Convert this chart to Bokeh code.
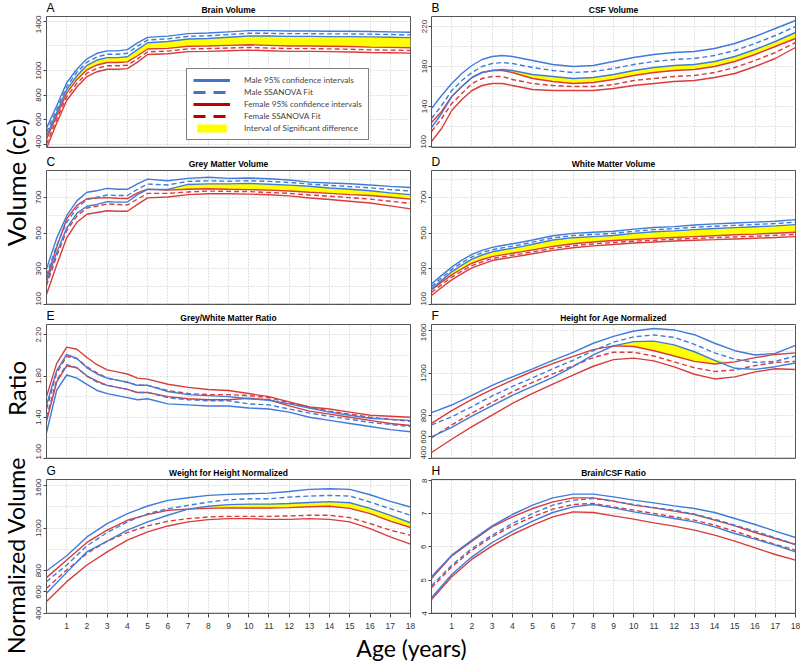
import numpy as np
from bokeh.plotting import figure
from bokeh.models import (Range1d, FixedTicker, Span, Legend, LegendItem,
                          NumeralTickFormatter)
from bokeh.layouts import row, column
from bokeh.embed import file_html
from bokeh.resources import INLINE
from bokeh.core.properties import value

# ---------------- data ----------------
AGES_FINE = [0, 0.5, 1, 1.5, 2, 2.5, 3, 3.5, 4, 4.5, 5, 6, 7, 8, 9, 10, 11, 12, 13, 14, 15, 16, 17, 18]
AGES_INT = list(range(19))
X_TICKS = list(range(1, 19))

# A  Brain Volume
A_m_up = [530, 710, 900, 1010, 1095, 1140, 1160, 1160, 1170, 1225, 1270, 1280, 1300, 1305, 1315, 1325, 1325, 1322, 1322, 1320, 1320, 1318, 1315, 1312]
A_m_fit = [495, 680, 870, 985, 1068, 1110, 1132, 1132, 1140, 1198, 1248, 1258, 1278, 1283, 1293, 1303, 1303, 1300, 1300, 1298, 1298, 1296, 1293, 1290]
A_m_lo = [465, 655, 845, 955, 1042, 1085, 1105, 1105, 1112, 1170, 1226, 1236, 1256, 1261, 1271, 1281, 1281, 1278, 1278, 1276, 1276, 1274, 1271, 1268]
A_f_up = [440, 630, 815, 925, 1005, 1045, 1065, 1065, 1070, 1120, 1175, 1180, 1198, 1200, 1205, 1210, 1205, 1200, 1200, 1198, 1195, 1190, 1188, 1185]
A_f_fit = [400, 600, 785, 895, 978, 1018, 1038, 1038, 1042, 1095, 1152, 1158, 1176, 1178, 1183, 1188, 1183, 1178, 1178, 1176, 1173, 1168, 1166, 1163]
A_f_lo = [365, 570, 755, 865, 950, 990, 1010, 1010, 1015, 1068, 1130, 1136, 1154, 1156, 1161, 1166, 1161, 1156, 1156, 1154, 1151, 1146, 1144, 1141]

# B  CSF Volume
B_m_up = [138, 151, 163, 173, 181, 187, 190, 191, 190, 188, 186, 182, 180, 181, 185, 189, 192, 194, 195, 198, 203, 210, 218, 226]
B_m_fit = [128, 141, 156, 166, 174, 180, 183, 184, 183, 181, 179, 176, 174, 175, 178, 182, 185, 187, 188, 191, 196, 203, 211, 220]
B_m_lo = [119, 133, 150, 160, 169, 174, 176, 177, 176, 174, 172, 170, 168, 169, 172, 176, 179, 181, 182, 185, 190, 197, 205, 214]
B_f_up = [124, 135, 150, 160, 169, 174, 176, 176, 174, 171, 168, 165, 163, 164, 167, 171, 174, 176, 177, 180, 185, 192, 200, 208]
B_f_fit = [115, 128, 143, 153, 163, 168, 170, 170, 167, 165, 163, 161, 160, 160, 162, 166, 168, 170, 171, 174, 179, 186, 194, 204]
B_f_lo = [105, 118, 136, 147, 156, 161, 163, 163, 161, 159, 157, 156, 156, 156, 158, 161, 163, 165, 166, 169, 173, 180, 188, 199]

# C  Grey Matter Volume
C_m_up = [299, 470, 597, 680, 728, 737, 750, 745, 745, 775, 802, 793, 806, 812, 806, 808, 804, 797, 785, 780, 776, 769, 761, 755]
C_m_fit = [262, 430, 560, 640, 687, 700, 713, 710, 710, 745, 774, 769, 789, 792, 790, 793, 789, 783, 774, 767, 760, 753, 743, 735]
C_m_lo = [225, 390, 528, 610, 650, 660, 676, 673, 674, 715, 744, 744, 772, 775, 775, 778, 773, 768, 762, 752, 745, 737, 725, 715]
C_f_up = [243, 420, 579, 655, 692, 696, 698, 695, 693, 725, 746, 740, 745, 748, 745, 743, 740, 735, 728, 722, 715, 710, 700, 690]
C_f_fit = [206, 370, 514, 595, 640, 650, 663, 660, 657, 690, 722, 722, 730, 735, 733, 732, 727, 722, 713, 706, 698, 690, 678, 666]
C_f_lo = [156, 320, 473, 560, 605, 615, 625, 622, 622, 660, 697, 702, 715, 720, 720, 718, 714, 708, 696, 688, 678, 668, 652, 635]

# D  White Matter Volume
D_m_up = [215, 263, 309, 348, 380, 403, 420, 430, 440, 450, 461, 485, 498, 504, 510, 522, 531, 536, 545, 551, 556, 561, 566, 575]
D_m_fit = [200, 249, 296, 334, 367, 390, 407, 417, 427, 437, 449, 473, 486, 492, 498, 510, 519, 524, 532, 538, 543, 548, 553, 561]
D_m_lo = [186, 235, 283, 320, 354, 377, 395, 405, 415, 425, 437, 461, 474, 480, 486, 498, 507, 512, 519, 525, 530, 535, 540, 547]
D_f_up = [182, 225, 266, 300, 331, 352, 368, 378, 387, 396, 406, 425, 440, 450, 458, 464, 470, 475, 480, 485, 490, 494, 499, 504]
D_f_fit = [167, 211, 253, 287, 318, 339, 357, 367, 376, 385, 395, 414, 429, 439, 447, 454, 460, 465, 470, 474, 478, 482, 487, 492]
D_f_lo = [150, 195, 238, 273, 305, 326, 346, 356, 365, 374, 384, 403, 418, 428, 436, 444, 450, 455, 460, 463, 467, 471, 475, 480]

# E  Grey/White Matter Ratio
E_m_up = [1.52, 1.85, 2.01, 1.97, 1.88, 1.82, 1.78, 1.76, 1.74, 1.71, 1.71, 1.65, 1.62, 1.61, 1.60, 1.58, 1.565, 1.53, 1.49, 1.45, 1.42, 1.39, 1.38, 1.37]
E_m_fit = [1.40, 1.76, 1.91, 1.88, 1.80, 1.74, 1.71, 1.69, 1.67, 1.64, 1.64, 1.59, 1.57, 1.56, 1.56, 1.53, 1.52, 1.48, 1.44, 1.41, 1.38, 1.35, 1.33, 1.31]
E_m_lo = [1.25, 1.66, 1.81, 1.78, 1.72, 1.66, 1.63, 1.61, 1.59, 1.57, 1.58, 1.53, 1.52, 1.51, 1.51, 1.49, 1.48, 1.45, 1.40, 1.37, 1.34, 1.31, 1.28, 1.26]
E_f_up = [1.60, 1.92, 2.08, 2.06, 1.98, 1.91, 1.86, 1.84, 1.82, 1.78, 1.77, 1.72, 1.69, 1.67, 1.66, 1.63, 1.60, 1.55, 1.50, 1.48, 1.45, 1.42, 1.41, 1.40]
E_f_fit = [1.48, 1.83, 1.99, 1.97, 1.89, 1.83, 1.78, 1.76, 1.74, 1.71, 1.71, 1.66, 1.63, 1.62, 1.62, 1.61, 1.59, 1.54, 1.50, 1.46, 1.43, 1.40, 1.38, 1.36]
E_f_lo = [1.36, 1.74, 1.90, 1.88, 1.80, 1.75, 1.71, 1.69, 1.67, 1.64, 1.64, 1.60, 1.58, 1.57, 1.57, 1.585, 1.57, 1.51, 1.46, 1.43, 1.40, 1.37, 1.34, 1.32]

# F  Height for Age Normalized
F_m_up = [828, 900, 990, 1085, 1165, 1240, 1320, 1395, 1480, 1545, 1595, 1618, 1605, 1560, 1480, 1410, 1370, 1385, 1460]
F_m_fit = [713, 790, 885, 985, 1075, 1155, 1240, 1320, 1410, 1490, 1540, 1558, 1535, 1470, 1390, 1330, 1300, 1310, 1360]
F_m_lo = [600, 690, 795, 895, 990, 1075, 1160, 1260, 1370, 1455, 1495, 1500, 1465, 1400, 1320, 1245, 1235, 1260, 1295]
F_f_up = [728, 847, 953, 1046, 1133, 1217, 1289, 1357, 1420, 1455, 1450, 1410, 1360, 1310, 1285, 1305, 1345, 1375, 1390]
F_f_fit = [591, 713, 825, 926, 1024, 1113, 1192, 1268, 1346, 1395, 1395, 1360, 1305, 1250, 1215, 1230, 1270, 1300, 1310]
F_f_lo = [454, 579, 697, 806, 915, 1009, 1096, 1180, 1264, 1326, 1340, 1314, 1258, 1189, 1145, 1164, 1211, 1240, 1233]

# G  Weight for Height Normalized
G_m_up = [797, 940, 1117, 1242, 1335, 1407, 1460, 1485, 1507, 1516, 1522, 1528, 1544, 1563, 1569, 1563, 1513, 1451, 1398]
G_m_fit = [697, 853, 1033, 1158, 1258, 1335, 1382, 1413, 1444, 1466, 1475, 1475, 1491, 1500, 1507, 1500, 1444, 1382, 1320]
G_m_lo = [588, 784, 977, 1077, 1180, 1258, 1320, 1378, 1405, 1420, 1425, 1425, 1430, 1440, 1448, 1438, 1385, 1320, 1250]
G_f_up = [735, 900, 1065, 1180, 1273, 1326, 1367, 1378, 1385, 1390, 1388, 1388, 1392, 1400, 1405, 1385, 1335, 1265, 1205]
G_f_fit = [635, 806, 962, 1077, 1158, 1220, 1264, 1289, 1304, 1310, 1310, 1310, 1314, 1320, 1320, 1298, 1242, 1180, 1133]
G_f_lo = [510, 697, 853, 977, 1086, 1164, 1220, 1258, 1279, 1289, 1289, 1282, 1282, 1289, 1282, 1258, 1195, 1118, 1049]

# H  Brain/CSF Ratio
H_m_up = [5.10, 5.75, 6.20, 6.63, 6.97, 7.25, 7.47, 7.58, 7.58, 7.50, 7.40, 7.32, 7.23, 7.15, 7.03, 6.85, 6.67, 6.47, 6.28]
H_m_fit = [4.83, 5.45, 5.95, 6.35, 6.70, 7.00, 7.25, 7.40, 7.45, 7.37, 7.27, 7.18, 7.10, 6.98, 6.83, 6.65, 6.47, 6.27, 6.07]
H_m_lo = [4.47, 5.17, 5.70, 6.13, 6.47, 6.77, 7.03, 7.20, 7.27, 7.17, 7.05, 6.95, 6.85, 6.75, 6.60, 6.40, 6.23, 6.05, 5.85]
H_f_up = [5.05, 5.73, 6.17, 6.60, 6.90, 7.15, 7.35, 7.47, 7.47, 7.37, 7.25, 7.17, 7.07, 6.97, 6.80, 6.63, 6.43, 6.25, 6.07]
H_f_fit = [4.77, 5.40, 5.90, 6.30, 6.63, 6.90, 7.13, 7.27, 7.30, 7.20, 7.10, 7.00, 6.90, 6.80, 6.65, 6.47, 6.27, 6.07, 5.90]
H_f_lo = [4.42, 5.10, 5.63, 6.03, 6.37, 6.65, 6.90, 7.05, 7.03, 6.93, 6.83, 6.72, 6.62, 6.50, 6.35, 6.17, 5.97, 5.77, 5.60]

LEGEND_LABELS = ["Male 95% confidence intervals", "Male SSANOVA Fit",
                 "Female 95% confidence intervals", "Female SSANOVA Fit",
                 "Interval of Significant difference"]

# ---------------- style / layout ----------------
BLUE = "#3f7bd8"
RED = "#d83c3c"
LEG_BLUE = "#4472c4"
LEG_RED = "#c00000"
YELLOW = "#ffff00"
TICK_FONT = "Liberation Sans"
BIG_FONT = "Lato"

LABEL_W = 31
TEXT_H = [15, 21, 18, 19]
ROW_H = [133, 136, 136, 155]
ROW_BB = [1, 1, 1, 20]
BOTTOM_H = 28
COL_W = [384, 385]
COL_BL = [15, 16]


def make_panel(ages, mu, mf, ml, fu, ff, fl, yr, yticks, ygrid, fmt, col, rowi, legend=False):
    p = figure(width=COL_W[col], height=ROW_H[rowi], x_range=Range1d(0, 18),
               y_range=Range1d(yr[0], yr[1]), toolbar_location=None,
               output_backend="svg", min_border_left=COL_BL[col], min_border_right=5,
               min_border_top=1, min_border_bottom=ROW_BB[rowi])
    p.background_fill_color = "white"
    p.border_fill_color = "white"
    p.outline_line_color = "#555555"
    p.outline_line_width = 1

    p.xgrid.ticker = FixedTicker(ticks=list(range(1, 18)))
    p.ygrid.ticker = FixedTicker(ticks=ygrid)
    for g in (p.xgrid[0], p.ygrid[0]):
        g.grid_line_color = "#c4c4c4"
        g.grid_line_dash = "1 2"
        g.grid_line_width = 1

    ya = p.yaxis[0]
    ya.ticker = FixedTicker(ticks=yticks)
    ya.formatter = NumeralTickFormatter(format=fmt)
    ya.major_label_orientation = "vertical"
    ya.major_label_text_font = TICK_FONT
    ya.major_label_text_font_size = "8px"
    ya.major_label_text_color = "#333333"
    ya.major_label_standoff = 2
    ya.major_tick_out = 3
    ya.major_tick_in = 0
    ya.minor_tick_line_color = None
    ya.axis_line_color = None
    ya.major_tick_line_color = "#444444"

    xa = p.xaxis[0]
    if rowi == 3:
        xa.ticker = FixedTicker(ticks=X_TICKS)
        xa.major_label_text_font = TICK_FONT
        xa.major_label_text_font_size = "8.5px"
        xa.major_label_text_color = "#333333"
        xa.major_label_standoff = 5
        xa.major_tick_out = 4
        xa.major_tick_in = 0
        xa.minor_tick_line_color = None
        xa.axis_line_color = None
        xa.major_tick_line_color = "#444444"
    else:
        xa.visible = False

    mla = np.array(ml, dtype=float)
    fua = np.array(fu, dtype=float)
    fla = np.array(fl, dtype=float)
    mua = np.array(mu, dtype=float)
    p.varea(x=ages, y1=fua, y2=np.maximum(mla, fua), fill_color=YELLOW, fill_alpha=1)
    p.varea(x=ages, y1=mua, y2=np.maximum(fla, mua), fill_color=YELLOW, fill_alpha=1)

    for ys, c, d in ((fu, RED, "solid"), (fl, RED, "solid"), (ff, RED, "5 3"),
                     (mu, BLUE, "solid"), (ml, BLUE, "solid"), (mf, BLUE, "5 3")):
        p.line(x=ages, y=ys, line_color=c, line_width=1.4, line_dash=d)

    p.add_layout(Span(location=yr[0], dimension="width", line_color="#555555",
                      line_width=2, line_dash="1 1"))

    if legend:
        ox, oy = [-5, -4], [yr[0], yr[0]]
        r1 = p.line(x=ox, y=oy, line_color=LEG_BLUE, line_width=3)
        r2 = p.line(x=ox, y=oy, line_color=LEG_BLUE, line_width=3, line_dash="12 8")
        r3 = p.line(x=ox, y=oy, line_color=LEG_RED, line_width=3)
        r4 = p.line(x=ox, y=oy, line_color=LEG_RED, line_width=3, line_dash="12 8")
        r5 = p.quad(left=[-5], right=[-4], top=[yr[1]], bottom=[yr[0]],
                    fill_color=YELLOW, line_color=None)
        items = [LegendItem(label=t, renderers=[r]) for t, r in
                 zip(LEGEND_LABELS, [r1, r2, r3, r4, r5])]
        lg = Legend(items=items, location=(140, 7), glyph_width=37, glyph_height=10,
                    label_height=10, label_standoff=14, padding=6, spacing=2, margin=0,
                    label_text_font=BIG_FONT, label_text_font_size="8.2px",
                    border_line_color="black", border_line_width=1,
                    background_fill_color="white", background_fill_alpha=1)
        p.add_layout(lg)
    return p


def text_fig(w, h):
    f = figure(width=w, height=h, x_range=Range1d(0, w), y_range=Range1d(h, 0),
               toolbar_location=None, output_backend="svg", min_border=0)
    f.axis.visible = False
    f.grid.visible = False
    f.outline_line_color = None
    f.background_fill_color = "white"
    f.border_fill_color = "white"
    return f


def header(rowi, letters, titles):
    w = COL_W[0] + COL_W[1]
    h = TEXT_H[rowi]
    f = text_fig(w, h)
    lx = [COL_BL[0], COL_W[0] + COL_BL[1]]
    cx = [COL_BL[0] + 182, COL_W[0] + COL_BL[1] + 182]
    f.text(x=lx, y=[h - 7.5, h - 7.5], text=letters, text_align="left", text_baseline="middle",
           text_font=value(TICK_FONT), text_font_size="12px", text_color="black")
    f.text(x=cx, y=[h - 5.5, h - 5.5], text=titles, text_align="center",
           text_baseline="middle", text_font=value(TICK_FONT), text_font_size="8.5px",
           text_font_style="bold", text_color="black")
    return f


pA = make_panel(AGES_FINE, A_m_up, A_m_fit, A_m_lo, A_f_up, A_f_fit, A_f_lo,
                (372, 1440), [400, 600, 800, 1000, 1400], [400, 600, 800, 1000, 1200, 1400], "0",
                0, 0, legend=True)
pB = make_panel(AGES_FINE, B_m_up, B_m_fit, B_m_lo, B_f_up, B_f_fit, B_f_lo,
                (99, 230), [100, 140, 180, 220], [100, 120, 140, 160, 180, 200, 220], "0", 1, 0)
pC = make_panel(AGES_FINE, C_m_up, C_m_fit, C_m_lo, C_f_up, C_f_fit, C_f_lo,
                (100, 850), [100, 300, 500, 700], [100, 200, 300, 400, 500, 600, 700, 800], "0", 0, 1)
pD = make_panel(AGES_FINE, D_m_up, D_m_fit, D_m_lo, D_f_up, D_f_fit, D_f_lo,
                (100, 850), [100, 300, 500, 700], [100, 200, 300, 400, 500, 600, 700, 800], "0", 1, 1)
pE = make_panel(AGES_FINE, E_m_up, E_m_fit, E_m_lo, E_f_up, E_f_fit, E_f_lo,
                (1.0, 2.3), [1.0, 1.4, 1.8, 2.2], [1.0, 1.2, 1.4, 1.6, 1.8, 2.0, 2.2], "0.00", 0, 2)
pF = make_panel(AGES_INT, F_m_up, F_m_fit, F_m_lo, F_f_up, F_f_fit, F_f_lo,
                (398, 1656), [400, 600, 800, 1200, 1600], [400, 600, 800, 1000, 1200, 1400, 1600], "0", 1, 2)
pG = make_panel(AGES_INT, G_m_up, G_m_fit, G_m_lo, G_f_up, G_f_fit, G_f_lo,
                (398, 1656), [400, 600, 800, 1200, 1600], [400, 600, 800, 1000, 1200, 1400, 1600], "0", 0, 3)
pH = make_panel(AGES_INT, H_m_up, H_m_fit, H_m_lo, H_f_up, H_f_fit, H_f_lo,
                (4.0, 8.02), [4, 5, 6, 7, 8], [4, 5, 6, 7, 8], "0", 1, 3)

h1 = header(0, ["A", "B"], ["Brain Volume", "CSF Volume"])
h2 = header(1, ["C", "D"], ["Grey Matter Volume", "White Matter Volume"])
h3 = header(2, ["E", "F"], ["Grey/White Matter Ratio", "Height for Age Normalized"])
h4 = header(3, ["G", "H"], ["Weight for Height Normalized", "Brain/CSF Ratio"])

TOTAL_H = sum(ROW_H) + sum(TEXT_H) + BOTTOM_H
left = text_fig(LABEL_W, TOTAL_H)
left.text(x=[15.5], y=[182], text=["Volume (cc)"], angle=np.pi / 2, text_align="center",
          text_baseline="middle", text_font=value(BIG_FONT), text_font_size="25.5px",
          text_color="black")
left.text(x=[15.5], y=[388], text=["Ratio"], angle=np.pi / 2, text_align="center",
          text_baseline="middle", text_font=value(BIG_FONT), text_font_size="24px",
          text_color="black")
left.text(x=[15.5], y=[555], text=["Normalized Volume"], angle=np.pi / 2, text_align="center",
          text_baseline="middle", text_font=value(BIG_FONT), text_font_size="23px",
          text_color="black")

bottom = text_fig(COL_W[0] + COL_W[1], BOTTOM_H)
bottom.text(x=[411 - LABEL_W], y=[14], text=["Age (years)"], text_align="center",
            text_baseline="middle", text_font=value(BIG_FONT), text_font_size="23px",
            text_color="black")

layout = row(left, column(h1, row(pA, pB), h2, row(pC, pD), h3, row(pE, pF), h4,
                          row(pG, pH), bottom))

open("out.html", "w").write(file_html(layout, INLINE))
